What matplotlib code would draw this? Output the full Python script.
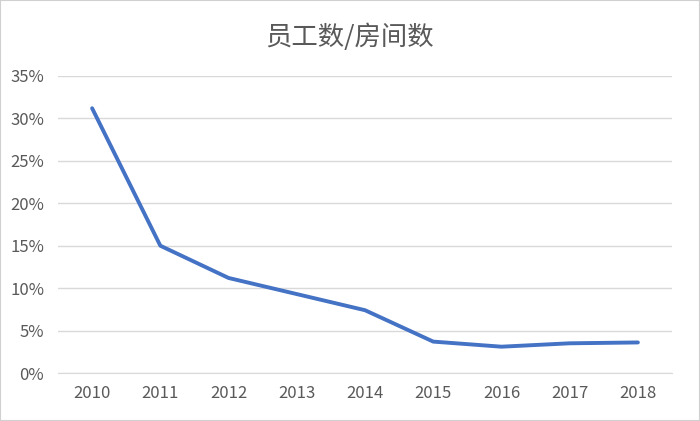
import matplotlib.pyplot as plt
from matplotlib.ticker import PercentFormatter
from matplotlib.patches import Rectangle

plt.rcParams['font.family'] = ['Noto Sans CJK SC', 'DejaVu Sans']

# data
years = ['2010', '2011', '2012', '2013', '2014', '2015', '2016', '2017', '2018']
ratio = [0.312, 0.150, 0.112, 0.093, 0.074, 0.037, 0.031, 0.035, 0.036]

fig = plt.figure(figsize=(7, 4.21), dpi=100)
ax = fig.add_axes([58 / 700, 1 - 373 / 421, 614 / 700, 297 / 421])

x = range(len(years))
ax.plot(x, ratio, color='#4472C4', linewidth=2.8, solid_capstyle='round')

ax.set_xlim(-0.5, len(years) - 0.5)
ax.set_ylim(0, 0.35)
ax.set_yticks([0, 0.05, 0.10, 0.15, 0.20, 0.25, 0.30, 0.35])
ax.yaxis.set_major_formatter(PercentFormatter(1.0, decimals=0))
ax.set_xticks(list(x))
ax.set_xticklabels(years)

ax.grid(axis='y', color='#D9D9D9', linewidth=1)
ax.set_axisbelow(True)
for s in ax.spines.values():
    s.set_visible(False)
ax.spines['bottom'].set_visible(True)
ax.spines['bottom'].set_color('#D9D9D9')
ax.tick_params(length=0, labelsize=12, colors='#595959')
ax.tick_params(axis='y', pad=10)
ax.tick_params(axis='x', pad=9)

fig.text(0.5, 1 - 37 / 421, '员工数/房间数', ha='center', va='center',
         fontsize=19, color='#595959')

fig.patches.append(Rectangle((0, 0), 1, 1, transform=fig.transFigure,
                             fill=False, edgecolor='#D0D0D0', linewidth=1.5))

fig.savefig('out.png', dpi=100)
